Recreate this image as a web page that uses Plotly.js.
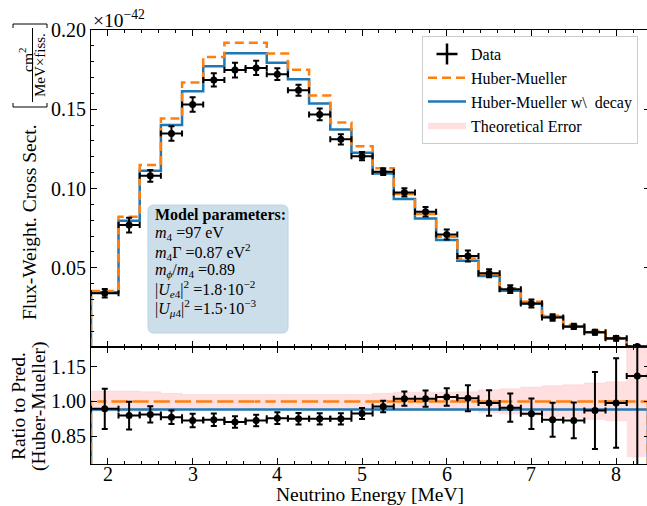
<!DOCTYPE html>
<html>
<head>
<meta charset="utf-8">
<script src="https://cdn.plot.ly/plotly-3.0.1.min.js"></script>
<style>
html,body{margin:0;padding:0;overflow:hidden;background:#fff;}
#chart{width:650px;height:506px;}
</style>
</head>
<body>
<div id="chart"></div>
<script>
// ---- data ----
const binEdges = [1.8, 2.125, 2.375, 2.625, 2.875, 3.125, 3.375, 3.625, 3.875, 4.125, 4.375, 4.625, 4.875,
  5.125, 5.375, 5.625, 5.875, 6.125, 6.375, 6.625, 6.875, 7.125, 7.375, 7.625, 7.875, 8.125, 8.375];

const huberMueller = [0.0353, 0.0822, 0.1148, 0.1442, 0.1669, 0.1830, 0.1919, 0.1919, 0.1852, 0.1750, 0.1587, 0.1417, 0.1267,
  0.1127, 0.0965, 0.0839, 0.0696, 0.0559, 0.0460, 0.0370, 0.0286, 0.0197, 0.0139, 0.0101, 0.0059, 0.0004];

const huberMuellerDecay = [0.0345, 0.0797, 0.1112, 0.1400, 0.1614, 0.1772, 0.1854, 0.1854, 0.1793, 0.1690, 0.1536, 0.1373, 0.1225,
  0.1095, 0.0933, 0.0811, 0.0675, 0.0544, 0.0448, 0.0355, 0.0273, 0.0191, 0.0128, 0.0093, 0.0052, 0.0004];

const dataValues = [0.0339, 0.0769, 0.1080, 0.1347, 0.1530, 0.1685, 0.1747, 0.1761, 0.1721, 0.1620, 0.1467, 0.1310, 0.1204,
  0.1106, 0.0975, 0.0853, 0.0710, 0.0574, 0.0465, 0.0365, 0.0275, 0.0186, 0.0130, 0.0093, 0.0055, 0.0003];

const dataErrors = [0.0027, 0.0047, 0.0037, 0.0046, 0.0045, 0.0042, 0.0046, 0.0045, 0.0037, 0.0035, 0.0037, 0.0032, 0.0026,
  0.0021, 0.0026, 0.0030, 0.0032, 0.0035, 0.0025, 0.0024, 0.0025, 0.0021, 0.0016, 0.0016, 0.0015, 0.0010];

const ratioData = [0.968, 0.939, 0.944, 0.932, 0.918, 0.921, 0.911, 0.918, 0.928, 0.925, 0.925, 0.925, 0.948,
  0.978, 1.012, 1.012, 1.019, 1.014, 0.993, 0.973, 0.947, 0.921, 0.918, 0.961, 0.993, 1.110];

const ratioErrors = [0.087, 0.060, 0.035, 0.029, 0.029, 0.027, 0.025, 0.025, 0.025, 0.025, 0.024, 0.024, 0.024,
  0.025, 0.031, 0.035, 0.038, 0.056, 0.055, 0.061, 0.066, 0.073, 0.077, 0.166, 0.193, 0.500];

const ratioHuberMueller = [1, 1, 1, 1, 1, 1, 1, 1, 1, 1, 1, 1, 1, 1, 1, 1, 1, 1, 1, 1, 1, 1, 1, 1, 1, 1];

const ratioDecay = [0.965, 0.965, 0.965, 0.965, 0.965, 0.965, 0.965, 0.965, 0.965, 0.965, 0.965, 0.965, 0.965,
  0.965, 0.965, 0.965, 0.965, 0.965, 0.965, 0.965, 0.965, 0.965, 0.965, 0.965, 0.965, 0.965];

const theoryError = [0.045, 0.045, 0.042, 0.035, 0.030, 0.030, 0.030, 0.030, 0.030, 0.030, 0.030, 0.030, 0.030,
  0.035, 0.040, 0.040, 0.040, 0.042, 0.050, 0.055, 0.062, 0.068, 0.072, 0.080, 0.085, 0.240];

const xTickVals = [2, 3, 4, 5, 6, 7, 8];
const yTopTickVals = [0.05, 0.10, 0.15, 0.20];
const yTopTickText = ['0.05', '0.10', '0.15', '0.20'];
const yRatioTickVals = [0.85, 1.00, 1.15];
const yRatioTickText = ['0.85', '1.00', '1.15'];

const legendNames = ['Data', 'Huber-Mueller', 'Huber-Mueller w\\  decay', 'Theoretical Error'];

const modelParamLines = [
  '<b>Model parameters:</b>',
  '<i>m</i><sub>4</sub> =97 eV',
  '<i>m</i><sub>4</sub>Γ =0.87 eV<sup>2</sup>',
  '<i>m</i><sub><i>ϕ</i></sub>/<i>m</i><sub>4</sub> =0.89',
  '|<i>U</i><sub><i>e</i>4</sub>|<sup>2</sup> =1.8·10<sup>−2</sup>',
  '|<i>U</i><sub><i>μ</i>4</sub>|<sup>2</sup> =1.5·10<sup>−3</sup>'
];

// ---- derived helpers ----
const nBins = binEdges.length - 1;
const centers = [], halfW = [];
for (let i = 0; i < nBins; i++) {
  centers.push((binEdges[i] + binEdges[i + 1]) / 2);
  halfW.push((binEdges[i + 1] - binEdges[i]) / 2);
}
function stepTrace(vals, closeToZero) {
  const xs = [], ys = [];
  if (closeToZero) { xs.push(binEdges[0]); ys.push(0); }
  for (let i = 0; i < nBins; i++) { xs.push(binEdges[i]); ys.push(vals[i]); }
  xs.push(binEdges[nBins]); ys.push(vals[nBins - 1]);
  if (closeToZero) { xs.push(binEdges[nBins]); ys.push(0); }
  return {x: xs, y: ys};
}
const bandLow = theoryError.map((e, i) => ratioHuberMueller[i] - e);
const bandHigh = theoryError.map((e, i) => ratioHuberMueller[i] + e);

const ORANGE = '#ff7f0e', BLUE = '#1f77b4';
const FONT = 'Liberation Serif, Times New Roman, serif';

const sHM = stepTrace(huberMueller, true);
const sDec = stepTrace(huberMuellerDecay, true);
const rHM = stepTrace(ratioHuberMueller, true);
const rDec = stepTrace(ratioDecay, true);
const bLo = stepTrace(bandLow, false);
const bHi = stepTrace(bandHigh, false);

const traces = [
  {x: bLo.x, y: bLo.y, xaxis: 'x2', yaxis: 'y2', mode: 'lines', line: {shape: 'hv', width: 0, color: 'rgba(0,0,0,0)'},
   showlegend: false, hoverinfo: 'skip'},
  {x: bHi.x, y: bHi.y, xaxis: 'x2', yaxis: 'y2', mode: 'lines', line: {shape: 'hv', width: 0.5, color: 'rgba(255,120,120,0.25)'},
   fill: 'tonexty', fillcolor: 'rgba(255,80,80,0.18)', name: legendNames[3], legendrank: 4, hoverinfo: 'skip'},
  {x: sDec.x, y: sDec.y, xaxis: 'x', yaxis: 'y', mode: 'lines', line: {shape: 'hv', color: BLUE, width: 2.5},
   name: legendNames[2], legendrank: 3},
  {x: sHM.x, y: sHM.y, xaxis: 'x', yaxis: 'y', mode: 'lines', line: {shape: 'hv', color: ORANGE, width: 2.5, dash: '9px,5px'},
   name: legendNames[1], legendrank: 2},
  {x: rDec.x, y: rDec.y, xaxis: 'x2', yaxis: 'y2', mode: 'lines', line: {shape: 'hv', color: BLUE, width: 2.5}, showlegend: false},
  {x: rHM.x, y: rHM.y, xaxis: 'x2', yaxis: 'y2', mode: 'lines', line: {shape: 'hv', color: ORANGE, width: 2.5, dash: '9px,5px'}, showlegend: false},
  {x: centers, y: dataValues, xaxis: 'x', yaxis: 'y', mode: 'markers', marker: {color: 'black', size: 7},
   error_x: {type: 'data', array: halfW, color: 'black', thickness: 2, width: 3},
   error_y: {type: 'data', array: dataErrors, color: 'black', thickness: 2, width: 3}, showlegend: false},
  {x: centers, y: ratioData, xaxis: 'x2', yaxis: 'y2', mode: 'markers', marker: {color: 'black', size: 7},
   error_x: {type: 'data', array: halfW, color: 'black', thickness: 2, width: 3},
   error_y: {type: 'data', array: ratioErrors, color: 'black', thickness: 2, width: 3}, showlegend: false},
  {x: [null], y: [null], xaxis: 'x', yaxis: 'y', mode: 'markers', name: legendNames[0], legendrank: 1,
   marker: {symbol: 'cross-thin', size: 15, color: 'black', line: {color: 'black', width: 2.5}}}
];

const L = 91, R = 650, T = 30, B = 464;
const W = R - L, H = B - T;
const px = v => (v - L) / W;
const py = v => (B - v) / H;
const splitY = 347;
const topDomain = [py(splitY), 1];
const botDomain = [0, py(splitY)];

function roundRect(x0, y0, x1, y1, r) {
  const P = (a, b) => `${px(a)},${py(b)}`;
  return `M ${P(x0 + r, y0)} L ${P(x1 - r, y0)} Q ${P(x1, y0)} ${P(x1, y0 + r)} L ${P(x1, y1 - r)} Q ${P(x1, y1)} ${P(x1 - r, y1)} ` +
         `L ${P(x0 + r, y1)} Q ${P(x0, y1)} ${P(x0, y1 - r)} L ${P(x0, y0 + r)} Q ${P(x0, y0)} ${P(x0 + r, y0)} Z`;
}

const axisCommon = {
  showline: true, linecolor: 'black', linewidth: 1, mirror: 'ticks',
  ticks: 'inside', ticklen: 6, tickwidth: 1, tickcolor: 'black',
  showgrid: false, zeroline: false,
  tickfont: {family: FONT, size: 20, color: 'black'}
};

const annotations = [
  {xref: 'paper', yref: 'paper', x: px(370), y: py(494), xanchor: 'center', yanchor: 'middle', showarrow: false,
   text: 'Neutrino Energy [MeV]', font: {family: FONT, size: 19.5}},
  {xref: 'paper', yref: 'paper', x: px(29), y: py(222), xanchor: 'center', yanchor: 'middle', showarrow: false,
   textangle: -90, text: 'Flux-Weight. Cross Sect.', font: {family: FONT, size: 19.5}},
  {xref: 'paper', yref: 'paper', x: px(26), y: py(60), xanchor: 'center', yanchor: 'middle', showarrow: false,
   textangle: -90, text: 'cm<sup>2</sup>', font: {family: FONT, size: 15.5}},
  {xref: 'paper', yref: 'paper', x: px(40), y: py(65), xanchor: 'center', yanchor: 'middle', showarrow: false,
   textangle: -90, text: 'MeV×fiss.', font: {family: FONT, size: 15}},
  {xref: 'paper', yref: 'paper', x: px(18), y: py(406), xanchor: 'center', yanchor: 'middle', showarrow: false,
   textangle: -90, text: 'Ratio to Pred.', font: {family: FONT, size: 19.5}},
  {xref: 'paper', yref: 'paper', x: px(39), y: py(406), xanchor: 'center', yanchor: 'middle', showarrow: false,
   textangle: -90, text: '(Huber-Mueller)', font: {family: FONT, size: 19.5}},
  {xref: 'paper', yref: 'paper', x: px(91), y: py(30), xanchor: 'left', yanchor: 'bottom', yshift: -3, showarrow: false,
   text: '×10<sup>−42</sup>', font: {family: FONT, size: 19.5}}
];
// x tick labels of the ratio panel, placed through the x2 axis
xTickVals.forEach(v => annotations.push({xref: 'x2', yref: 'paper', x: v, y: py(474), xanchor: 'center', yanchor: 'middle',
  showarrow: false, text: String(v), font: {family: FONT, size: 20, color: 'black'}}));
// model parameter text lines
const lineCenters = [215, 233.5, 252, 270.5, 289, 307.5];
modelParamLines.forEach((t, i) => annotations.push({xref: 'paper', yref: 'paper', x: px(153), y: py(lineCenters[i]),
  xanchor: 'left', yanchor: 'middle', showarrow: false, text: t, font: {family: FONT, size: 16, color: 'black'}}));

const layout = {
  width: 650, height: 506,
  margin: {l: L, r: 650 - R, t: T, b: 506 - B},
  paper_bgcolor: 'white', plot_bgcolor: 'white',
  font: {family: FONT, color: 'black', size: 20},
  hovermode: false,
  showlegend: true,
  legend: {x: px(422), y: py(36), xanchor: 'left', yanchor: 'top', traceorder: 'normal',
    bgcolor: 'white', bordercolor: '#cccccc', borderwidth: 1, itemwidth: 38,
    font: {family: FONT, size: 16, color: 'black'}, tracegroupgap: 0},
  xaxis: Object.assign({}, axisCommon, {domain: [0, 1], anchor: 'y', range: [1.8, 8.4], tickvals: xTickVals,
    showticklabels: false,
    minor: {ticks: 'inside', ticklen: 3, tickwidth: 1, tickcolor: 'black', dtick: 0.2, tick0: 0, showgrid: false}}),
  yaxis: Object.assign({}, axisCommon, {domain: topDomain, anchor: 'x', range: [0, 0.2],
    tickvals: yTopTickVals, ticktext: yTopTickText,
    minor: {ticks: 'inside', ticklen: 3, tickwidth: 1, tickcolor: 'black', dtick: 0.01, tick0: 0, showgrid: false}}),
  xaxis2: Object.assign({}, axisCommon, {domain: [0, 1], anchor: 'y2', range: [1.8, 8.4], tickvals: xTickVals,
    showticklabels: false,
    minor: {ticks: 'inside', ticklen: 3, tickwidth: 1, tickcolor: 'black', dtick: 0.2, tick0: 0, showgrid: false}}),
  yaxis2: Object.assign({}, axisCommon, {domain: botDomain, anchor: 'x2', range: [0.73, 1.235],
    tickvals: yRatioTickVals, ticktext: yRatioTickText}),
  annotations: annotations,
  shapes: [
    {type: 'line', xref: 'paper', yref: 'paper', x0: px(32.5), x1: px(32.5), y0: py(28), y1: py(102), line: {color: 'black', width: 1}},
    {type: 'path', xref: 'paper', yref: 'paper', line: {color: 'black', width: 1},
     path: `M ${px(13)} ${py(28)} L ${px(13)} ${py(24)} L ${px(47)} ${py(24)} L ${px(47)} ${py(28)}`},
    {type: 'path', xref: 'paper', yref: 'paper', line: {color: 'black', width: 1},
     path: `M ${px(13)} ${py(103)} L ${px(13)} ${py(107)} L ${px(47)} ${py(107)} L ${px(47)} ${py(103)}`},
    {type: 'path', xref: 'paper', yref: 'paper', layer: 'below', fillcolor: '#cddeeb', line: {color: '#bed2e2', width: 1},
     path: roundRect(148, 205, 288, 333, 6)}
  ]
};

Plotly.newPlot('chart', traces, layout, {staticPlot: true, displayModeBar: false});
</script>
</body>
</html>
